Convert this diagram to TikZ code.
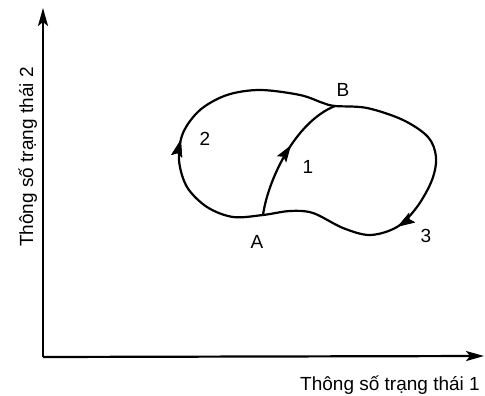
\documentclass[tikz,border=0pt]{standalone}
\usepackage{fontspec}
\setmainfont{Liberation Sans}
\usetikzlibrary{arrows.meta,decorations.markings}
\begin{document}
\begin{tikzpicture}[x=1pt,y=-1pt,
  axis/.style={line width=2.2pt,-{Stealth[length=18pt,width=10pt,inset=4pt]}},
  curve/.style={line width=2.2pt},
  lbl/.style={font=\fontsize{19}{22}\selectfont,inner sep=0pt},
  tip/.style={decoration={markings,mark=at position #1 with {\arrow{Stealth[length=17pt,width=11pt,inset=3pt]}}},postaction={decorate}}]
\useasboundingbox (0,0) rectangle (485,396);
\coordinate (O) at (43,357);
\coordinate (Ytop) at (43,8);
\coordinate (Xend) at (484,356);
\coordinate (A) at (263,215);
\coordinate (B) at (335,106);
\draw[axis] (O) -- (Ytop);
\draw[axis] (O) -- (Xend);
\node[lbl,rotate=90,anchor=base] (ylab) at (33,157) {Thông số trạng thái 2};
\node[lbl,anchor=base east] (xlab) at (480,390) {Thông số trạng thái 1};
% outer loop: curve 2 (A -> B, left) and curve 3 (B -> A, right)
\draw[curve,tip/.list={0.16,0.74}] plot[smooth cycle,tension=0.55] coordinates {
  (A) (233,217) (207,207) (187,187) (179,160) (183,133) (200,110) (227,95) (260,90) (300,95) (323,103)
  (B) (367,108) (403,120) (428,137) (436,157) (432,180) (417,207) (397,227) (370,235) (343,228) (313,213) (290,211)};
% curve 1
\draw[curve,tip=0.56] (A) .. controls (268,180) and (295,122) .. (B);
\node[lbl,anchor=base] (lB) at (343,97) {B};
\node[lbl,anchor=base] (lA) at (257,248) {A};
\node[lbl,anchor=base] (l1) at (308,173) {1};
\node[lbl,anchor=base] (l2) at (205,145) {2};
\node[lbl,anchor=base] (l3) at (426,242) {3};
\end{tikzpicture}
\end{document}
